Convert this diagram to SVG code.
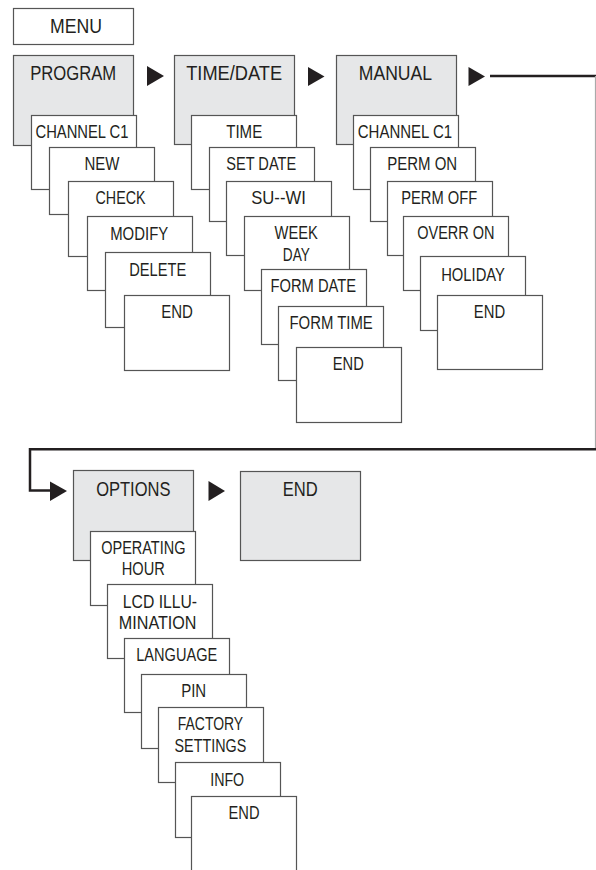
<svg xmlns="http://www.w3.org/2000/svg" width="596" height="870" viewBox="0 0 596 870">
<style>
rect.b{fill:#ffffff;stroke:#555555;stroke-width:1.2}
rect.h{fill:#e6e7e8;stroke:#555555;stroke-width:1.2}
text{font-family:"Liberation Sans",Arial,sans-serif;fill:#231f20;font-size:18px}
text.t{font-size:19.5px}
.ln{fill:none;stroke:#231f20;stroke-width:2.5}
.tri{fill:#231f20}
</style>
<rect width="596" height="870" fill="#ffffff"/>
<g id="menu"><rect class="b" x="13.5" y="8.5" width="120" height="36"/><text class="t" x="50" y="33.3" textLength="52" lengthAdjust="spacingAndGlyphs" style="font-size:20.5px">MENU</text></g>

<g id="program"><rect class="h" x="13.5" y="55.5" width="120" height="90"/><text class="t" x="30.2" y="80" textLength="86" lengthAdjust="spacingAndGlyphs">PROGRAM</text></g>
<g id="p-channel"><rect class="b" x="31.5" y="115.5" width="105" height="74"/><text x="35.5" y="138" textLength="93" lengthAdjust="spacingAndGlyphs">CHANNEL C1</text></g>
<g id="p-new"><rect class="b" x="49.5" y="147.5" width="105" height="67"/><text x="84.5" y="170" textLength="35" lengthAdjust="spacingAndGlyphs">NEW</text></g>
<g id="p-check"><rect class="b" x="68.5" y="181.5" width="105" height="75"/><text x="95.5" y="204.3" textLength="50" lengthAdjust="spacingAndGlyphs">CHECK</text></g>
<g id="p-modify"><rect class="b" x="87.5" y="216.5" width="105" height="74"/><text x="110.2" y="240" textLength="58" lengthAdjust="spacingAndGlyphs">MODIFY</text></g>
<g id="p-delete"><rect class="b" x="105.5" y="252.5" width="105" height="75"/><text x="129.2" y="275.7" textLength="57" lengthAdjust="spacingAndGlyphs">DELETE</text></g>
<g id="p-end"><rect class="b" x="124.5" y="295.5" width="105" height="75"/><text x="161.2" y="318.3" textLength="31.7" lengthAdjust="spacingAndGlyphs">END</text></g>

<g id="timedate"><rect class="h" x="174.5" y="55.5" width="120" height="89"/><text class="t" x="186.2" y="80" textLength="96" lengthAdjust="spacingAndGlyphs">TIME/DATE</text></g>
<g id="t-time"><rect class="b" x="191.5" y="115.5" width="105" height="74"/><text x="226.2" y="138.3" textLength="36" lengthAdjust="spacingAndGlyphs">TIME</text></g>
<g id="t-setdate"><rect class="b" x="209.5" y="147.5" width="105" height="74"/><text x="226.2" y="170" textLength="70" lengthAdjust="spacingAndGlyphs">SET DATE</text></g>
<g id="t-suwi"><rect class="b" x="226.5" y="181.5" width="105" height="74"/><text x="251.2" y="204.3" textLength="54.6" lengthAdjust="spacingAndGlyphs">SU--WI</text></g>
<g id="t-weekday"><rect class="b" x="244.5" y="216.5" width="105" height="74"/><text x="274.5" y="239" textLength="43.3" lengthAdjust="spacingAndGlyphs">WEEK</text><text x="282.8" y="260.7" textLength="27" lengthAdjust="spacingAndGlyphs">DAY</text></g>
<g id="t-formdate"><rect class="b" x="261.5" y="269.5" width="105" height="75"/><text x="270.5" y="291.7" textLength="85.7" lengthAdjust="spacingAndGlyphs">FORM DATE</text></g>
<g id="t-formtime"><rect class="b" x="278.5" y="306.5" width="105" height="74"/><text x="289.5" y="329" textLength="83.3" lengthAdjust="spacingAndGlyphs">FORM TIME</text></g>
<g id="t-end"><rect class="b" x="296.5" y="347.5" width="105" height="75"/><text x="332.8" y="370" textLength="31" lengthAdjust="spacingAndGlyphs">END</text></g>

<g id="manual"><rect class="h" x="336.5" y="55.5" width="120" height="89"/><text class="t" x="358.8" y="80" textLength="73.3" lengthAdjust="spacingAndGlyphs">MANUAL</text></g>
<g id="m-channel"><rect class="b" x="353.5" y="115.5" width="105" height="74"/><text x="357.8" y="138.3" textLength="94.3" lengthAdjust="spacingAndGlyphs">CHANNEL C1</text></g>
<g id="m-permon"><rect class="b" x="370.5" y="147.5" width="105" height="74"/><text x="387.2" y="170" textLength="70" lengthAdjust="spacingAndGlyphs">PERM ON</text></g>
<g id="m-permoff"><rect class="b" x="387.5" y="181.5" width="105" height="74"/><text x="401.2" y="204.3" textLength="76" lengthAdjust="spacingAndGlyphs">PERM OFF</text></g>
<g id="m-overron"><rect class="b" x="403.5" y="216.5" width="105" height="74"/><text x="417.2" y="239" textLength="77.3" lengthAdjust="spacingAndGlyphs">OVERR ON</text></g>
<g id="m-holiday"><rect class="b" x="420.5" y="256.5" width="105" height="74"/><text x="441.2" y="280.7" textLength="63.7" lengthAdjust="spacingAndGlyphs">HOLIDAY</text></g>
<g id="m-end"><rect class="b" x="437.5" y="295.5" width="105" height="74"/><text x="473.8" y="318.3" textLength="31.3" lengthAdjust="spacingAndGlyphs">END</text></g>

<g id="options"><rect class="h" x="73.5" y="470.5" width="120" height="90"/><text class="t" x="96.2" y="496" textLength="74.3" lengthAdjust="spacingAndGlyphs">OPTIONS</text></g>
<g id="end-main"><rect class="h" x="240.5" y="471.5" width="120" height="89"/><text class="t" x="282.8" y="496" textLength="35" lengthAdjust="spacingAndGlyphs">END</text></g>
<g id="o-operating"><rect class="b" x="90.5" y="531.5" width="105" height="74"/><text x="101.2" y="554.3" textLength="84.3" lengthAdjust="spacingAndGlyphs">OPERATING</text><text x="121.8" y="575.3" textLength="43" lengthAdjust="spacingAndGlyphs">HOUR</text></g>
<g id="o-lcd"><rect class="b" x="107.5" y="584.5" width="105" height="74"/><text x="122.8" y="607.7" textLength="74.3" lengthAdjust="spacingAndGlyphs">LCD ILLU-</text><text x="118.8" y="629.3" textLength="77.7" lengthAdjust="spacingAndGlyphs">MINATION</text></g>
<g id="o-language"><rect class="b" x="124.5" y="638.5" width="105" height="74"/><text x="136.2" y="661" textLength="81" lengthAdjust="spacingAndGlyphs">LANGUAGE</text></g>
<g id="o-pin"><rect class="b" x="141.5" y="674.5" width="105" height="74"/><text x="181.2" y="696.7" textLength="25" lengthAdjust="spacingAndGlyphs">PIN</text></g>
<g id="o-factory"><rect class="b" x="158.5" y="707.5" width="105" height="75"/><text x="177.8" y="730" textLength="65.3" lengthAdjust="spacingAndGlyphs">FACTORY</text><text x="174.5" y="751.7" textLength="71.7" lengthAdjust="spacingAndGlyphs">SETTINGS</text></g>
<g id="o-info"><rect class="b" x="175.5" y="762.5" width="105" height="75"/><text x="210.2" y="785.7" textLength="34" lengthAdjust="spacingAndGlyphs">INFO</text></g>
<g id="o-end"><rect class="b" x="191.5" y="796.5" width="105" height="80"/><text x="228.5" y="819.3" textLength="31" lengthAdjust="spacingAndGlyphs">END</text></g>

<g id="connectors">
<polygon class="tri" points="147,66 147,86 164,76"/>
<polygon class="tri" points="308,67 308,86 324.5,76.5"/>
<polygon class="tri" points="468.5,67 468.5,86 485,76.5"/>
<polygon class="tri" points="208.5,481 208.5,501 225,491"/>
<path class="ln" d="M490,76 H596"/>
<path d="M595.5,76 V449" fill="none" stroke="#aaaaaa" stroke-width="1.2"/>
<path class="ln" d="M596,449.3 H30 V490.5 H52"/>
<polygon class="tri" points="50,481.5 50,501 67,491"/>
</g>
</svg>
